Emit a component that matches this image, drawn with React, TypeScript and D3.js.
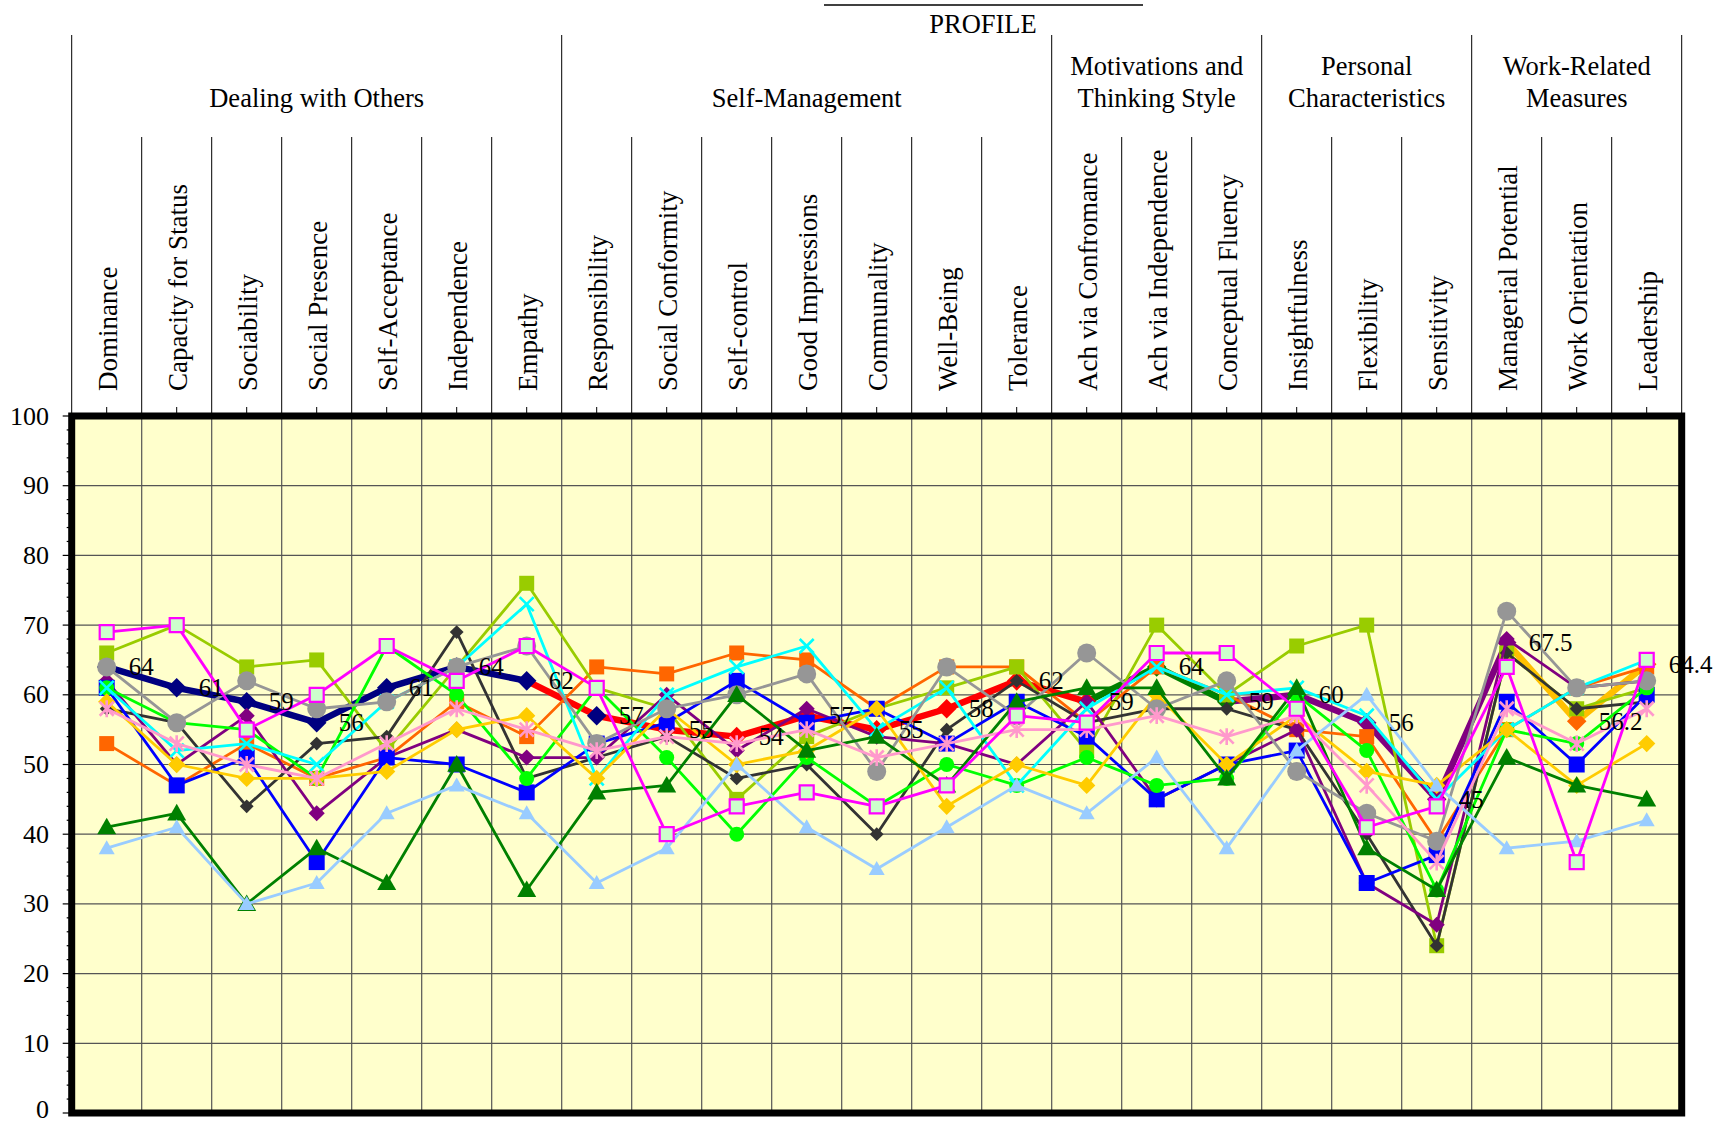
import React, { useEffect, useRef } from "react";
import * as d3 from "d3";

const categories = [
  "Dominance", "Capacity for Status", "Sociability", "Social Presence", "Self-Acceptance",
  "Independence", "Empathy", "Responsibility", "Social Conformity", "Self-control",
  "Good Impressions", "Communality", "Well-Being", "Tolerance", "Ach via Confromance",
  "Ach via Independence", "Conceptual Fluency", "Insightfulness", "Flexibility", "Sensitivity",
  "Managerial Potential", "Work Orientation", "Leadership",
];

// group headers: lines of text, first and last category index
const groupNames = [
  ["Dealing with Others"],
  ["Self-Management"],
  ["Motivations and", "Thinking Style"],
  ["Personal", "Characteristics"],
  ["Work-Related", "Measures"],
];
const groupStarts = [0, 7, 14, 17, 20];
const groupEnds = [6, 13, 16, 19, 22];

const yTicks = [0, 10, 20, 30, 40, 50, 60, 70, 80, 90, 100];

// individual profiles
const magentaScores = [69, 70, 55, 60, 67, 62, 67, 61, 40, 44, 46, 44, 47, 57, 56, 66, 66, 58, 41, 44, 64, 36, 65];
const limeScores = [66, 70, 64, 65, 52, 64, 76, 61, 58, 45, 54, 58, 61, 64, 52, 70, 60, 67, 70, 24, 66, 58, 61];
const grayScores = [64, 56, 62, 58, 59, 64, 67, 53, 58, 60, 63, 49, 64, 57, 66, 58, 62, 49, 43, 39, 72, 61, 62];
const blueScores = [61, 47, 51, 36, 51, 50, 46, 53, 56, 62, 56, 58, 53, 59, 54, 45, 50, 52, 33, 37, 59, 50, 60];
const greenScores = [61, 56, 55, 48, 67, 60, 48, 61, 51, 40, 51, 44, 50, 47, 51, 47, 48, 60, 52, 32, 55, 53, 61];
const cyanScores = [61, 52, 53, 50, 59, 64, 73, 48, 60, 64, 67, 55, 61, 47, 58, 64, 60, 61, 57, 45, 55, 61, 65];
const purpleScores = [62, 50, 57, 43, 51, 55, 51, 51, 60, 52, 58, 54, 53, 50, 59, 45, 50, 55, 33, 27, 68, 61, 62];
const darkGrayScores = [58, 56, 44, 53, 54, 69, 48, 51, 54, 48, 50, 40, 55, 62, 56, 58, 58, 55, 40, 24, 66, 58, 59];
const orangeScores = [53, 47, 53, 48, 51, 59, 54, 64, 63, 66, 65, 58, 64, 64, 56, 64, 60, 55, 54, 39, 55, 61, 64];
const goldScores = [59, 50, 48, 48, 49, 55, 57, 48, 58, 50, 52, 58, 44, 50, 47, 60, 50, 57, 49, 47, 55, 47, 53];
const pinkScores = [58, 53, 50, 48, 53, 58, 55, 52, 54, 53, 55, 51, 53, 55, 55, 57, 54, 57, 47, 36, 58, 53, 58];
const darkGreenScores = [41, 43, 30, 38, 33, 50, 32, 46, 47, 60, 52, 54, 47, 59, 61, 61, 48, 61, 38, 32, 51, 47, 45];
const lightBlueScores = [38, 41, 30, 33, 43, 47, 43, 33, 38, 50, 41, 35, 41, 47, 43, 51, 38, 52, 60, 47, 38, 39, 42];

// group average, labelled
const averageScores = [64, 61, 59, 56, 61, 64, 62, 57, 55, 54, 57, 55, 58, 62, 59, 64, 59, 60, 56, 45, 67.5, 56.2, 64.4];
const averageLabels = ["64", "61", "59", "56", "61", "64", "62", "57", "55", "54", "57", "55", "58", "62", "59", "64", "59", "60", "56", "45", "67.5", "56.2", "64.4"];
// colour of the segment leaving each point, and of each point's marker
const averageSegmentColors = [
  "#000080", "#000080", "#000080", "#000080", "#000080", "#000080", "#FF0000",
  "#FF0000", "#FF0000", "#FF0000", "#FF0000", "#FF0000", "#FF0000", "#FF0000",
  "#008000", "#008000", "#800080", "#800080", "#800080", "#800080",
  "#FFC000", "#FFC000",
];
const averageMarkerColors = [
  "#000080", "#000080", "#000080", "#000080", "#000080", "#000080", "#000080",
  "#000080", "#FF0000", "#FF0000", "#FF0000", "#FF0000", "#FF0000", "#FF0000",
  "#FF0000", "#008000", "#008000", "#008000", "#800080", "#800080",
  "#800080", "#FF6600", "#FF6600",
];

const series = [
  { values: orangeScores, color: "#FF6600", shape: "square", size: 15, fill: "#FF6600" },
  { values: limeScores, color: "#99CC00", shape: "square", size: 15, fill: "#99CC00" },
  { values: darkGrayScores, color: "#333333", shape: "diamond", size: 12, fill: "#333333" },
  { values: purpleScores, color: "#800080", shape: "diamond", size: 14, fill: "#800080" },
  { values: blueScores, color: "#0000FF", shape: "square", size: 16, fill: "#0000FF" },
  { values: greenScores, color: "#00FF00", shape: "circle", size: 15, fill: "#00FF00" },
  { values: cyanScores, color: "#00FFFF", shape: "x", size: 14, fill: "none" },
  { values: goldScores, color: "#FFCC00", shape: "diamond", size: 15, fill: "#FFCC00" },
  { values: grayScores, color: "#969696", shape: "circle", size: 19, fill: "#969696" },
  { values: darkGreenScores, color: "#008000", shape: "triangle", size: 19, fill: "#008000" },
  { values: lightBlueScores, color: "#99CCFF", shape: "triangle", size: 16, fill: "#99CCFF" },
  { values: pinkScores, color: "#FF99CC", shape: "star", size: 14, fill: "none" },
  { values: magentaScores, color: "#FF00FF", shape: "square", size: 14, fill: "#CCFFCC" },
];

const markerPath = (shape, s) => {
  const h = s / 2;
  switch (shape) {
    case "square": return `M${-h},${-h}h${s}v${s}h${-s}Z`;
    case "diamond": return `M0,${-h * 1.15}L${h * 1.15},0L0,${h * 1.15}L${-h * 1.15},0Z`;
    case "circle": return d3.symbol(d3.symbolCircle, Math.PI * h * h)();
    case "triangle": return `M0,${-h}L${h},${h * 0.75}L${-h},${h * 0.75}Z`;
    case "x": return `M${-h},${-h}L${h},${h}M${-h},${h}L${h},${-h}`;
    default: return `M${-h},${-h}L${h},${h}M${-h},${h}L${h},${-h}M0,${-h * 1.2}V${h * 1.2}`;
  }
};

const App = () => {
  const svgRef = useRef(null);

  useEffect(() => {
    if (!svgRef.current) return;
    const svg = d3.select(svgRef.current);
    svg.selectAll("*").remove();

    const font = "'Liberation Serif', 'Times New Roman', serif";
    const left = 71.7, right = 1681.7, top = 416, bottom = 1113;

    const x = d3.scaleBand().domain(categories).range([left, right]);
    const cx = (i) => x(categories[i]) + x.bandwidth() / 2;
    const y = d3.scaleLinear().domain([0, 100]).range([bottom, top]);

    // title
    svg.append("line").attr("x1", 824).attr("x2", 1143).attr("y1", 5).attr("y2", 5)
      .attr("stroke", "#000").attr("stroke-width", 1.5);
    svg.append("text").attr("x", 983).attr("y", 24).attr("text-anchor", "middle")
      .attr("dominant-baseline", "central").attr("font-family", font).attr("font-size", 26.5)
      .text("PROFILE");

    // header dividers
    categories.forEach((c, i) => {
      const isGroupStart = groupStarts.includes(i);
      svg.append("line").attr("x1", x(c)).attr("x2", x(c))
        .attr("y1", isGroupStart ? 35 : 137).attr("y2", top)
        .attr("stroke", "#000").attr("stroke-width", 1);
    });
    svg.append("line").attr("x1", right).attr("x2", right).attr("y1", 35).attr("y2", top)
      .attr("stroke", "#000").attr("stroke-width", 1);

    // group headers
    groupNames.forEach((lines, g) => {
      const gx = (x(categories[groupStarts[g]]) + x(categories[groupEnds[g]]) + x.bandwidth()) / 2;
      const y0 = lines.length === 1 ? 97.5 : 66;
      lines.forEach((ln, k) => {
        svg.append("text").attr("x", gx).attr("y", y0 + k * 31.5)
          .attr("text-anchor", "middle").attr("dominant-baseline", "central")
          .attr("font-family", font).attr("font-size", 26.5).text(ln);
      });
    });

    // category labels
    categories.forEach((c, i) => {
      svg.append("text")
        .attr("transform", `translate(${cx(i) + 1},391) rotate(-90)`)
        .attr("dy", "0.36em").attr("font-family", font).attr("font-size", 27)
        .text(c);
    });

    // plot background
    svg.append("rect").attr("x", left).attr("y", top).attr("width", right - left)
      .attr("height", bottom - top).attr("fill", "#FFFFCC");

    // grid
    yTicks.forEach((t) => {
      svg.append("line").attr("x1", left).attr("x2", right).attr("y1", y(t)).attr("y2", y(t))
        .attr("stroke", "#555").attr("stroke-width", 1.2);
    });
    categories.forEach((c, i) => {
      if (i === 0) return;
      svg.append("line").attr("x1", x(c)).attr("x2", x(c)).attr("y1", top).attr("y2", bottom)
        .attr("stroke", "#555").attr("stroke-width", 1.2);
    });

    // y axis ticks and labels
    d3.range(0, 101, 2).forEach((t) => {
      const major = t % 10 === 0;
      svg.append("line").attr("x1", left - (major ? 9 : 5)).attr("x2", left)
        .attr("y1", y(t)).attr("y2", y(t)).attr("stroke", "#000").attr("stroke-width", 1.2);
    });
    yTicks.forEach((t) => {
      // keep the bottom label inside the page
      svg.append("text").attr("x", 49).attr("y", t === 0 ? y(t) - 4 : y(t)).attr("text-anchor", "end")
        .attr("dominant-baseline", "central").attr("font-family", font).attr("font-size", 26)
        .text(t);
    });
    categories.forEach((c, i) => {
      svg.append("line").attr("x1", cx(i)).attr("x2", cx(i)).attr("y1", top - 9).attr("y2", top)
        .attr("stroke", "#000").attr("stroke-width", 1);
    });

    // average line, segment by segment
    const plot = svg.append("g");
    averageScores.slice(1).forEach((v, i) => {
      plot.append("line")
        .attr("x1", cx(i)).attr("y1", y(averageScores[i]))
        .attr("x2", cx(i + 1)).attr("y2", y(v))
        .attr("stroke", averageSegmentColors[i]).attr("stroke-width", 6.5)
        .attr("stroke-linecap", "round");
    });
    averageScores.forEach((v, i) => {
      plot.append("path").attr("d", markerPath("diamond", 17))
        .attr("transform", `translate(${cx(i)},${y(v)})`)
        .attr("fill", averageMarkerColors[i]);
    });

    // individual profiles
    const line = d3.line().x((d, i) => cx(i)).y((d) => y(d));
    series.forEach((s) => {
      const g = plot.append("g");
      g.append("path").datum(s.values).attr("d", line).attr("fill", "none")
        .attr("stroke", s.color).attr("stroke-width", 2.8).attr("stroke-linejoin", "round");
      s.values.forEach((v, i) => {
        const open = s.shape === "x" || s.shape === "star";
        g.append("path").attr("d", markerPath(s.shape, s.size))
          .attr("transform", `translate(${cx(i)},${y(v)})`)
          .attr("fill", s.fill)
          .attr("stroke", open || s.fill !== s.color ? s.color : "none")
          .attr("stroke-width", open ? 2.6 : 2.2);
      });
    });

    // average labels
    averageScores.forEach((v, i) => {
      svg.append("text").attr("x", cx(i) + 22).attr("y", y(v))
        .attr("dominant-baseline", "central").attr("font-family", font).attr("font-size", 25)
        .text(averageLabels[i]);
    });

    // plot frame
    svg.append("rect").attr("x", left).attr("y", top).attr("width", right - left)
      .attr("height", bottom - top).attr("fill", "none").attr("stroke", "#000")
      .attr("stroke-width", 7);
  }, []);

  return (
    <svg
      ref={svgRef}
      width={1718}
      height={1125}
      style={{ position: "absolute", left: 0, top: 0, background: "#fff" }}
    />
  );
};

export default App;
